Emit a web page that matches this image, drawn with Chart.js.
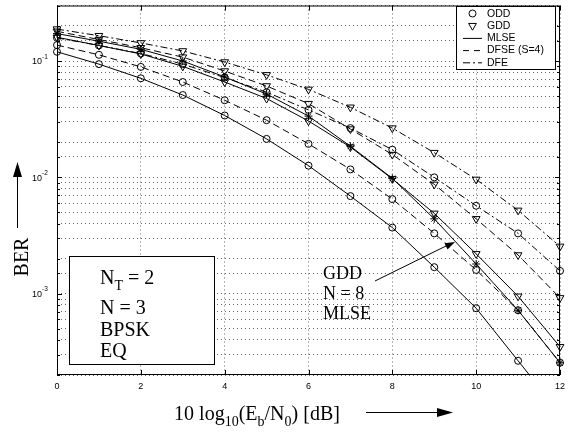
<!DOCTYPE html>
<html>
<head>
<meta charset="utf-8">
<script src="https://cdn.jsdelivr.net/npm/chart.js@4.4.0/dist/chart.umd.min.js"></script>
<style>
  html, body { margin: 0; padding: 0; background: #fff; }
</style>
</head>
<body>
<canvas id="berChart" width="575" height="432"></canvas>
<script>
// Eb/N0 in dB
const snrDb = [0, 1, 2, 3, 4, 5, 6, 7, 8, 9, 10, 11, 12];
const xTickStep = 2;
const yDecades = [1e-1, 1e-2, 1e-3];
const yDecadeExp = ['-1', '-2', '-3'];

// BER curves
const gddDfe  = [0.188, 0.165, 0.143, 0.122, 0.098, 0.076, 0.057, 0.040, 0.0265, 0.0163, 0.0096, 0.0052, 0.00255];
const oddDfe  = [0.158, 0.136, 0.116, 0.094, 0.072, 0.054, 0.038, 0.0265, 0.0173, 0.0100, 0.0057, 0.0033, 0.00157];
const gddDfse = [0.180, 0.153, 0.130, 0.108, 0.082, 0.061, 0.043, 0.026, 0.0157, 0.0087, 0.0044, 0.00215, 0.00092];
const gddMlse = [0.160, 0.136, 0.115, 0.090, 0.066, 0.0476, 0.0305, 0.0182, 0.0097, 0.0049, 0.0022, 0.00095, 0.00035];
const gdd8Mlse = [0.172, 0.148, 0.126, 0.100, 0.073, 0.052, 0.0336, 0.0185, 0.0098, 0.0044, 0.0018, 0.00072, 0.000255];
const oddDfse = [0.137, 0.113, 0.089, 0.066, 0.046, 0.031, 0.0194, 0.0117, 0.0065, 0.0033, 0.0016, 0.00072, 0.000255];
const oddMlse = [0.120, 0.094, 0.071, 0.051, 0.034, 0.0214, 0.0126, 0.0069, 0.0037, 0.00169, 0.00075, 0.000265, 0.000094];

const legendLabels = ['ODD', 'GDD', 'MLSE', 'DFSE (S=4)', 'DFE'];
const infoLines = ['N = 3', 'BPSK', 'EQ'];
const arrowNote = ['GDD', 'N = 8', 'MLSE'];

const SANS = '"Liberation Sans", Arial, Helvetica, sans-serif';
const SERIF = '"Liberation Serif", "Times New Roman", serif';

const DASHED = [7, 4];
const DASHDOT = [7, 3, 2, 3];

function series(label, values, marker, dash) {
    return {
        label: label,
        data: snrDb.map((x, i) => ({ x: x, y: values[i] })),
        borderColor: '#000',
        borderWidth: 1,
        borderDash: dash,
        backgroundColor: 'rgba(0,0,0,0)',
        pointStyle: marker,
        pointRadius: marker === 'triangle' ? 4.5 : (marker === 'star' ? 4 : 3.5),
        pointRotation: marker === 'triangle' ? 180 : 0,
        pointBorderColor: '#000',
        pointBackgroundColor: 'rgba(0,0,0,0)',
        pointBorderWidth: 1,
        tension: 0,
        clip: false
    };
}

// draw text with sub/superscripts, parts = [[text, 'sub'|'sup'|undefined], ...]
function richText(ctx, parts, x, y, size, family, align) {
    const pieces = parts.map(p => {
        const s = p[1] ? size * 0.7 : size;
        ctx.font = s + 'px ' + family;
        return { t: p[0], kind: p[1], s: s, w: ctx.measureText(p[0]).width };
    });
    const total = pieces.reduce((a, p) => a + p.w, 0);
    let cx = align === 'center' ? x - total / 2 : (align === 'right' ? x - total : x);
    ctx.textAlign = 'left';
    ctx.textBaseline = 'alphabetic';
    pieces.forEach(p => {
        ctx.font = p.s + 'px ' + family;
        let dy = 0;
        if (p.kind === 'sub') dy = size * 0.28;
        if (p.kind === 'sup') dy = -size * 0.45;
        ctx.fillText(p.t, cx, y + dy);
        cx += p.w;
    });
}

function arrowHead(ctx, tipX, tipY, angle, len, half) {
    ctx.save();
    ctx.translate(tipX, tipY);
    ctx.rotate(angle);
    ctx.beginPath();
    ctx.moveTo(0, 0);
    ctx.lineTo(-len, -half);
    ctx.lineTo(-len, half);
    ctx.closePath();
    ctx.fill();
    ctx.restore();
}

function legendMarker(ctx, kind, x, y) {
    ctx.beginPath();
    if (kind === 'circle') {
        ctx.arc(x, y, 3.5, 0, Math.PI * 2);
    } else {
        const r = 4.5;
        ctx.moveTo(x, y + r);
        ctx.lineTo(x - r * 0.866, y - r / 2);
        ctx.lineTo(x + r * 0.866, y - r / 2);
        ctx.closePath();
    }
    ctx.stroke();
}

const decorations = {
    id: 'decorations',
    afterDatasetsDraw(chart) {
        const { ctx, chartArea: a, scales: { x, y } } = chart;
        ctx.save();
        ctx.strokeStyle = '#000';
        ctx.fillStyle = '#000';
        ctx.lineWidth = 1;
        ctx.setLineDash([]);

        // axes box
        ctx.strokeRect(a.left + 0.5, a.top + 0.5, a.right - a.left - 1, a.bottom - a.top - 1);

        // inward ticks
        ctx.beginPath();
        for (let v = x.min; v <= x.max; v += xTickStep) {
            const px = Math.round(x.getPixelForValue(v)) + 0.5;
            ctx.moveTo(px, a.bottom); ctx.lineTo(px, a.bottom - 5);
            ctx.moveTo(px, a.top); ctx.lineTo(px, a.top + 5);
        }
        y.ticks.forEach(t => {
            const lg = Math.log10(t.value);
            const major = Math.abs(lg - Math.round(lg)) < 1e-6;
            const len = major ? 5 : 3;
            const py = Math.round(y.getPixelForValue(t.value)) + 0.5;
            ctx.moveTo(a.left, py); ctx.lineTo(a.left + len, py);
            ctx.moveTo(a.right, py); ctx.lineTo(a.right - len, py);
        });
        ctx.stroke();

        // y tick labels 10^-n
        yDecades.forEach((v, i) => {
            const py = y.getPixelForValue(v);
            ctx.font = '9px ' + SANS;
            ctx.textAlign = 'right';
            ctx.textBaseline = 'middle';
            ctx.fillText('10', 42, py + 1);
            ctx.font = '6.5px ' + SANS;
            ctx.textAlign = 'left';
            ctx.fillText(yDecadeExp[i], 42, py - 4);
        });

        // legend
        const lx = 456, ly = 6, lw = 99, lh = 63;
        ctx.fillStyle = '#fff';
        ctx.fillRect(lx, ly, lw, lh);
        ctx.strokeRect(lx + 0.5, ly + 0.5, lw, lh);
        ctx.fillStyle = '#000';
        legendLabels.forEach((lab, i) => {
            const ry = 13.5 + 12.2 * i;
            if (i === 0) legendMarker(ctx, 'circle', 472.5, ry);
            else if (i === 1) legendMarker(ctx, 'tri', 472.5, ry);
            else {
                ctx.save();
                ctx.setLineDash(i === 2 ? [] : (i === 3 ? [6, 5] : DASHDOT));
                ctx.beginPath();
                ctx.moveTo(463, ry + 0.5); ctx.lineTo(482, ry + 0.5);
                ctx.stroke();
                ctx.restore();
            }
            ctx.font = '10.5px ' + SANS;
            ctx.textAlign = 'left';
            ctx.textBaseline = 'middle';
            ctx.fillText(lab, 487, ry + 0.5);
        });

        // info box
        ctx.fillStyle = '#fff';
        ctx.fillRect(69, 256, 145, 108);
        ctx.strokeRect(69.5, 256.5, 145, 108);
        ctx.fillStyle = '#000';
        richText(ctx, [['N'], ['T', 'sub'], [' = 2']], 100, 284, 20, SERIF, 'left');
        [314, 335.5, 357].forEach((by, i) => {
            richText(ctx, [[infoLines[i]]], 100, by, 20, SERIF, 'left');
        });

        // annotation with arrow
        [278.5, 298.5, 318.5].forEach((by, i) => {
            richText(ctx, [[arrowNote[i]]], 323, by, 18, SERIF, 'left');
        });
        ctx.beginPath();
        ctx.moveTo(375, 281);
        ctx.lineTo(447, 245.5);
        ctx.stroke();
        arrowHead(ctx, 455, 242, Math.atan2(242 - 281, 455 - 375), 10, 3.5);

        // y title with arrow
        ctx.save();
        ctx.translate(28, 257);
        ctx.rotate(-Math.PI / 2);
        richText(ctx, [['BER']], 0, 0, 20, SERIF, 'center');
        ctx.restore();
        ctx.beginPath();
        ctx.moveTo(17.5, 228);
        ctx.lineTo(17.5, 176);
        ctx.stroke();
        arrowHead(ctx, 17.5, 162, -Math.PI / 2, 15, 4.5);

        // x title with arrow
        richText(ctx, [['10 log'], ['10', 'sub'], ['(E'], ['b', 'sub'], ['/N'], ['0', 'sub'], [') [dB]']],
            257, 420, 20, SERIF, 'center');
        ctx.beginPath();
        ctx.moveTo(366, 412.5);
        ctx.lineTo(440, 412.5);
        ctx.stroke();
        arrowHead(ctx, 453, 412.5, 0, 16, 4.5);

        ctx.restore();
    }
};

const oddMlseSet = series('ODD MLSE', oddMlse, 'circle', []);
oddMlseSet.clip = { left: 10, top: 10, right: 10, bottom: 0 };

new Chart(document.getElementById('berChart'), {
    type: 'line',
    data: {
        datasets: [
            series('GDD DFE', gddDfe, 'triangle', DASHDOT),
            series('ODD DFE', oddDfe, 'circle', DASHDOT),
            series('GDD DFSE', gddDfse, 'triangle', DASHED),
            series('GDD MLSE', gddMlse, 'triangle', []),
            series('GDD N=8 MLSE', gdd8Mlse, 'star', []),
            series('ODD DFSE', oddDfse, 'circle', DASHED),
            oddMlseSet
        ]
    },
    options: {
        responsive: false,
        animation: false,
        devicePixelRatio: 1,
        layout: { padding: { left: 0, top: 1, right: 15, bottom: 0 } },
        plugins: { legend: { display: false }, tooltip: { enabled: false } },
        scales: {
            x: {
                type: 'linear',
                min: 0,
                max: 12,
                afterFit: s => { s.height = 57; },
                ticks: { stepSize: xTickStep, color: '#000', padding: 6, maxRotation: 0,
                         font: { family: SANS, size: 9 } },
                grid: { color: '#666', lineWidth: 1, drawTicks: false },
                border: { display: false, dash: [1, 3] }
            },
            y: {
                type: 'logarithmic',
                min: 2e-4,
                max: 0.3,
                afterFit: s => { s.width = 57; },
                ticks: { display: false, autoSkip: false },
                grid: { color: '#666', lineWidth: 1, drawTicks: false },
                border: { display: false, dash: [1, 3] }
            }
        }
    },
    plugins: [decorations]
});
</script>
</body>
</html>
